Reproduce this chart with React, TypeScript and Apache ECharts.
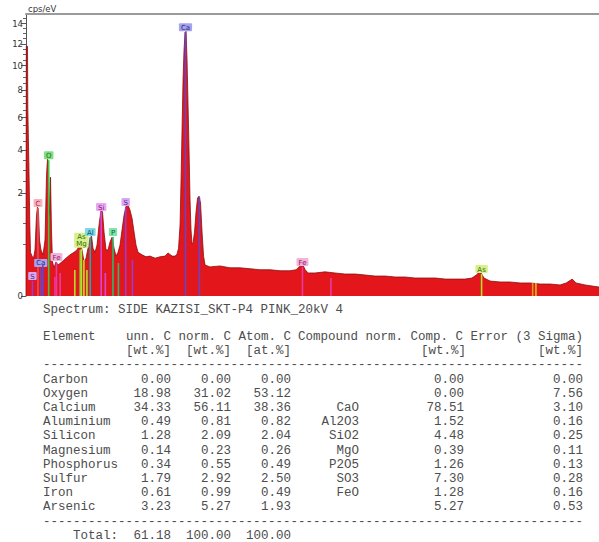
import React, { useEffect, useRef } from 'react';
import * as echarts from 'echarts';

// ---------- spectrum (energy in keV, intensity in cps/eV) ----------
const energyKeV = [
  0.0, 0.007, 0.035, 0.042, 0.058, 0.069, 0.088, 0.104, 0.139, 0.174,
  0.208, 0.243, 0.266, 0.289, 0.313, 0.347, 0.394, 0.44, 0.475, 0.498,
  0.521, 0.544, 0.567, 0.59, 0.613, 0.648, 0.694, 0.741, 0.833, 0.926,
  1.019, 1.111, 1.181, 1.227, 1.262, 1.296, 1.343, 1.389, 1.435, 1.481,
  1.516, 1.551, 1.597, 1.644, 1.69, 1.736, 1.771, 1.806, 1.852, 1.898,
  1.944, 1.991, 2.037, 2.083, 2.13, 2.176, 2.222, 2.269, 2.315, 2.361,
  2.407, 2.454, 2.5, 2.546, 2.593, 2.685, 2.778, 2.87, 2.986, 3.102,
  3.218, 3.287, 3.38, 3.449, 3.495, 3.53, 3.565, 3.588, 3.611, 3.634,
  3.657, 3.681, 3.704, 3.727, 3.75, 3.773, 3.796, 3.819, 3.843, 3.866,
  3.9, 3.935, 3.97, 4.005, 4.039, 4.074, 4.109, 4.144, 4.259, 4.49,
  4.72, 4.95, 5.185, 5.42, 5.65, 5.88, 6.11, 6.25, 6.32, 6.366,
  6.41, 6.46, 6.53, 6.69, 6.92, 7.15, 7.38, 7.62, 7.85, 8.08,
  8.31, 8.54, 8.77, 9.0, 9.24, 9.47, 9.7, 9.93, 10.16, 10.32,
  10.42, 10.49, 10.53, 10.6, 10.74, 10.97, 11.2, 11.44, 11.67, 11.9,
  12.13, 12.36, 12.5, 12.64, 12.73, 12.94, 13.26
];
const countsCps = [
  0, 11.76, 11.76, 6.65, 6.65, 2.99, 0.95, 0.36, 0.3, 0.27,
  0.4, 1.23, 1.49, 1.33, 0.59, 0.4, 0.32, 0.59, 2.75, 3.58,
  2.99, 1.23, 2.66, 0.82, 0.22, 0.15, 0.22, 0.18, 0.22, 0.27,
  0.32, 0.36, 0.4, 0.47, 0.51, 0.4, 0.22, 0.27, 0.43, 0.63,
  0.68, 0.43, 0.36, 0.49, 0.95, 1.39, 1.33, 0.77, 0.4, 0.4,
  0.55, 0.65, 0.43, 0.3, 0.36, 0.49, 0.82, 1.23, 1.52, 1.56,
  1.39, 1.14, 0.77, 0.49, 0.36, 0.32, 0.29, 0.3, 0.27, 0.29,
  0.3, 0.35, 0.3, 0.3, 0.33, 0.43, 0.95, 2.53, 5.19, 8.78,
  11.39, 13.11, 13.21, 10.48, 6.86, 4.01, 1.73, 0.82, 0.51, 0.53,
  0.77, 1.33, 1.81, 1.88, 1.63, 0.77, 0.3, 0.18, 0.16, 0.17,
  0.15, 0.15, 0.14, 0.13, 0.13, 0.12, 0.12, 0.13, 0.16, 0.19,
  0.18, 0.13, 0.1, 0.1, 0.11, 0.1, 0.091, 0.091, 0.083, 0.075,
  0.075, 0.068, 0.068, 0.061, 0.061, 0.061, 0.054, 0.054, 0.054, 0.061,
  0.083, 0.108, 0.1, 0.061, 0.042, 0.037, 0.037, 0.032, 0.032, 0.027,
  0.027, 0.023, 0.032, 0.054, 0.032, 0.023, 0.015
];

// ---------- element lines ----------
const lineElement = ['S', 'C', 'Ca', 'O', 'Fe', 'Mg', 'As', 'Al', 'Si', 'P', 'S', 'Ca', 'Ca', 'Fe', 'Fe', 'As', 'AsB', 'AsB2',
  'Ca', 'Fe', 'Fe', 'As', 'As', 'As', 'Si', 'P', 'S'];
const lineLabel = ['S', 'C', 'Ca', 'O', 'Fe', '', 'As\nMg', 'Al', 'Si', 'P', 'S', 'Ca', '', 'Fe', '', 'As', '', '',
  '', '', '', '', '', '', '', '', ''];
const lineEnergy = [0.149, 0.277, 0.341, 0.525, 0.705, 1.254, 1.282, 1.487, 1.74, 2.013, 2.307, 3.691, 4.012, 6.398, 7.057, 10.543, 11.726, 11.8,
  0.39, 0.67, 0.79, 1.13, 1.34, 1.41, 1.836, 2.139, 2.464];
const lineHeight = [0.042, 1.46, 0.148, 3.48, 0.218, 0.398, 0.42, 0.655, 1.33, 0.655, 1.49, 13.11, 1.84, 0.158, 0.061, 0.091, 0.032, 0.032,
  0.18, 0.068, 0.1, 0.127, 0.244, 0.127, 0.1, 0.205, 0.244];

// ---------- axis ----------
const yTickValues = [0, 2, 4, 6, 8, 10, 12, 14];
const yMinorValues = [0.5, 1, 1.5, 2.5, 3, 3.5, 4.5, 5, 5.5, 6.5, 7, 7.5, 8.5, 9, 9.5, 10.5, 11, 11.5, 12.5, 13, 13.5, 14.5];
const yMax = 15;
const xMax = 13.26;

// ---------- table ----------
const spectrumTitle = 'Spectrum: SIDE KAZISI_SKT-P4 PINK_20kV 4';
const elementNames = ['Carbon', 'Oxygen', 'Calcium', 'Aluminium', 'Silicon', 'Magnesium', 'Phosphorus', 'Sulfur', 'Iron', 'Arsenic'];
const unnC = [0.0, 18.98, 34.33, 0.49, 1.28, 0.14, 0.34, 1.79, 0.61, 3.23];
const normC = [0.0, 31.02, 56.11, 0.81, 2.09, 0.23, 0.55, 2.92, 0.99, 5.27];
const atomC = [0.0, 53.12, 38.36, 0.82, 2.04, 0.26, 0.49, 2.5, 0.49, 1.93];
const compoundNames = ['', '', 'CaO', 'Al2O3', 'SiO2', 'MgO', 'P2O5', 'SO3', 'FeO', ''];
const compoundC = [0.0, 0.0, 78.51, 1.52, 4.48, 0.39, 1.26, 7.3, 1.28, 5.27];
const errorSigma = [0.0, 7.56, 3.1, 0.16, 0.25, 0.11, 0.13, 0.28, 0.16, 0.53];
const totals = [61.18, 100.0, 100.0];

const elementStyle: Record<string, { line: string; bg: string; text: string }> = {
  S: { line: '#9a3ccf', bg: '#d6a8f2', text: '#5a1a8a' },
  C: { line: '#e25060', bg: '#f6b4c0', text: '#c02040' },
  Ca: { line: '#6a44c4', bg: '#a6a2ec', text: '#28288a' },
  O: { line: '#3ec43e', bg: '#7fe07f', text: '#1d6a1d' },
  Fe: { line: '#e83aa0', bg: '#f4b2dc', text: '#8a2060' },
  Mg: { line: '#86d040', bg: '#d6f08c', text: '#3a6a00' },
  As: { line: '#b4e02a', bg: '#d6f08c', text: '#3a6a00' },
  Al: { line: '#1ea8b0', bg: '#80d8e6', text: '#0d4f60' },
  Si: { line: '#d846d8', bg: '#eaa8f2', text: '#6a1a8a' },
  P: { line: '#2eb86a', bg: '#80e6a8', text: '#0d5a30' },
  AsB: { line: '#e09a20', bg: '#f0d090', text: '#604000' },
  AsB2: { line: '#d8c020', bg: '#f0e090', text: '#604000' },
};

const MONO = "'Liberation Mono', 'Courier New', monospace";
const TXT = '#4d4d4d';

function buildTable(): any[] {
  const els: any[] = [];
  const fs = 12.5;
  const left = (text: string, x: number, y: number) =>
    els.push({ type: 'text', x, y, style: { text, fontFamily: MONO, fontSize: fs, fill: TXT, align: 'left', verticalAlign: 'middle' } });
  const right = (text: string, x: number, y: number) =>
    els.push({ type: 'text', x, y, style: { text, fontFamily: MONO, fontSize: fs, fill: TXT, align: 'right', verticalAlign: 'middle' } });

  left(spectrumTitle, 43, 310);
  // header
  left('Element', 43, 337);
  right('unn. C', 171, 337);
  right('norm. C', 231, 337);
  right('Atom. C', 291, 337);
  left('Compound', 298, 337);
  left('norm.', 365.5, 337);
  left('Comp. C', 410.5, 337);
  right('Error (3 Sigma)', 583, 337);
  right('[wt.%]', 171, 351);
  right('[wt.%]', 231, 351);
  right('[at.%]', 291, 351);
  right('[wt.%]', 466, 351);
  right('[wt.%]', 583, 351);
  const dashes = '-'.repeat(72);
  left(dashes, 43, 365);
  const y0 = 379.5;
  const dy = 14.2;
  elementNames.forEach((name, i) => {
    const y = y0 + i * dy;
    left(name, 43, y);
    right(unnC[i].toFixed(2), 171, y);
    right(normC[i].toFixed(2), 231, y);
    right(atomC[i].toFixed(2), 291, y);
    if (compoundNames[i]) right(compoundNames[i], 359, y);
    right(compoundC[i].toFixed(2), 464, y);
    right(errorSigma[i].toFixed(2), 583, y);
  });
  left(dashes, 43, 521.5);
  right('Total:', 118, 536);
  right(totals[0].toFixed(2), 171, 536);
  right(totals[1].toFixed(2), 231, 536);
  right(totals[2].toFixed(2), 291, 536);
  return els;
}

export default function App() {
  const ref = useRef<HTMLDivElement>(null);
  useEffect(() => {
    if (!ref.current) return;
    const chart = echarts.init(ref.current, undefined, { renderer: 'svg' });
    const sq = (v: number) => Math.sqrt(v);
    const spectrum = energyKeV.map((e, i) => [e, sq(countsCps[i])]);
    const markerData = lineEnergy.map((e, i) => [e, sq(lineHeight[i])]);
    const option: any = {
      animation: false,
      backgroundColor: '#ffffff',
      grid: { left: 26, top: 14, right: 0, bottom: 246 },
      xAxis: [
        {
          type: 'value', min: 0, max: xMax,
          axisLine: { show: false }, axisTick: { show: false }, axisLabel: { show: false }, splitLine: { show: false },
        },
        {
          type: 'value', position: 'top', min: 0, max: xMax,
          axisLine: { show: true, onZero: false, lineStyle: { color: '#9a9a9a', width: 2 } },
          axisTick: { show: false }, axisLabel: { show: false }, splitLine: { show: false },
        },
      ],
      yAxis: [
        {
          type: 'value', position: 'left', min: 0, max: sq(yMax),
          name: 'cps/eV', nameLocation: 'end', nameGap: 1,
          nameTextStyle: { align: 'left', verticalAlign: 'bottom', fontSize: 8.5, color: '#333', fontFamily: 'DejaVu Sans', padding: [0, 0, 0, 2] },
          axisLine: { show: true, onZero: false, lineStyle: { color: '#555', width: 1 } },
          axisTick: { show: true, length: 5, customValues: yTickValues.map(sq), lineStyle: { color: '#555' } },
          axisLabel: {
            customValues: yTickValues.map(sq), fontSize: 8.5, color: '#333', margin: 3, fontFamily: 'DejaVu Sans',
            formatter: (v: number) => String(Math.round(v * v)),
          },
          splitLine: { show: false },
        },
        {
          type: 'value', position: 'left', min: 0, max: sq(yMax),
          axisLine: { show: false },
          axisTick: { show: true, length: 3, customValues: yMinorValues.map(sq), lineStyle: { color: '#666' } },
          axisLabel: { show: false }, splitLine: { show: false },
        },
      ],
      series: [
        {
          type: 'line', xAxisIndex: 0, yAxisIndex: 0, data: spectrum, showSymbol: false, symbol: 'none',
          lineStyle: { color: '#8a1010', width: 0.8 },
          areaStyle: { color: '#e3161b', opacity: 1 },
          z: 2,
        },
        {
          type: 'custom', xAxisIndex: 0, yAxisIndex: 0, data: markerData, z: 5,
          renderItem: (params: any, api: any) => {
            const i = params.dataIndex;
            const st = elementStyle[lineElement[i]];
            const base = api.coord([api.value(0), 0]);
            const top = api.coord([api.value(0), api.value(1)]);
            const children: any[] = [
              { type: 'line', shape: { x1: base[0], y1: base[1], x2: top[0], y2: top[1] }, style: { stroke: st.line, lineWidth: 1.6 } },
            ];
            if (lineLabel[i]) {
              children.push({
                type: 'text', x: top[0], y: top[1] - 1,
                style: {
                  text: lineLabel[i], fill: st.text, fontSize: 7, fontFamily: 'DejaVu Sans', lineHeight: 7,
                  align: 'center', verticalAlign: 'bottom',
                  backgroundColor: st.bg, padding: [1, 2, 0, 2], borderRadius: 1,
                },
              });
            }
            return { type: 'group', children };
          },
        },
      ],
      graphic: buildTable(),
    };
    chart.setOption(option);
    return () => chart.dispose();
  }, []);
  return <div ref={ref} style={{ position: 'fixed', left: 0, top: 0, width: 599, height: 542, background: '#fff' }} />;
}
